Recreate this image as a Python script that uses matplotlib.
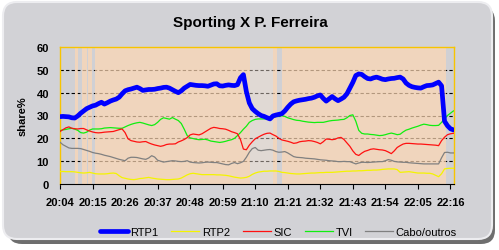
import numpy as np
import matplotlib
matplotlib.use("Agg")
import matplotlib.pyplot as plt
from matplotlib.patches import FancyBboxPatch

plt.rcParams['font.family'] = ['Liberation Sans', 'DejaVu Sans']

## time axis: one point per minute, starting 20:04
minutes = list(range(0, 134))
tick_pos = list(range(0, 133, 11))
tick_labels = ["20:04", "20:15", "20:26", "20:37", "20:48", "20:59", "21:10",
               "21:21", "21:32", "21:43", "21:54", "22:05", "22:16"]

rtp1 = [29.5, 29.6, 29.5, 29.4, 29.0, 28.9, 29.8, 31.0, 32.0, 33.0,
        33.6, 34.2, 34.5, 35.2, 35.8, 35.0, 35.6, 36.3, 36.8, 37.2,
        38.0, 39.5, 40.8, 41.3, 41.6, 42.0, 42.4, 41.8, 41.0, 41.2,
        41.4, 41.4, 41.5, 41.8, 42.0, 42.3, 42.4, 42.0, 41.3, 40.6,
        40.0, 40.8, 42.0, 42.8, 43.6, 43.4, 43.2, 43.1, 43.1, 43.0,
        42.8, 43.3, 43.8, 43.9, 43.0, 42.9, 43.2, 43.4, 43.2, 43.1,
        43.5, 46.5, 47.9, 40.5, 35.5, 33.0, 31.8, 30.8, 30.0, 29.6,
        29.0, 28.5, 29.8, 30.2, 30.5, 30.8, 32.0, 33.6, 35.0, 36.0,
        36.4, 36.7, 36.9, 37.1, 37.4, 37.6, 38.0, 38.6, 39.0, 37.5,
        36.3, 37.3, 38.3, 37.3, 36.5, 37.2, 38.0, 39.5, 42.0, 44.5,
        47.5, 48.2, 48.0, 47.0, 46.2, 46.0, 46.5, 46.8, 46.4, 45.9,
        45.7, 46.0, 46.2, 46.3, 46.6, 46.8, 46.0, 44.2, 43.2, 42.6,
        42.3, 42.1, 42.0, 42.6, 43.1, 43.2, 43.4, 44.0, 44.6, 43.0,
        27.5, 25.5, 24.2, 23.7]

rtp2 = [5.4, 5.5, 5.4, 5.4, 5.4, 5.3, 5.1, 4.9, 4.8, 4.9,
        5.1, 4.8, 4.5, 4.4, 4.4, 4.4, 4.5, 4.7, 4.8, 4.6,
        3.6, 2.8, 2.5, 2.2, 2.0, 1.9, 2.1, 2.4, 2.5, 2.7,
        2.9, 2.6, 2.4, 2.2, 2.1, 2.0, 1.9, 1.9, 2.0, 2.1,
        2.2, 2.6, 3.3, 4.0, 4.5, 4.7, 4.5, 4.3, 4.1, 4.1,
        4.1, 4.1, 4.1, 4.0, 4.0, 3.9, 3.8, 3.6, 3.3, 3.0,
        2.8, 2.6, 2.7, 2.9, 3.4, 4.2, 4.8, 5.2, 5.4, 5.6,
        5.6, 5.7, 5.7, 5.7, 5.5, 5.1, 5.0, 4.8, 4.6, 4.5,
        4.4, 4.4, 4.5, 4.6, 4.7, 4.8, 4.8, 4.9, 5.0, 5.0,
        5.1, 5.1, 5.1, 5.2, 5.3, 5.4, 5.5, 5.6, 5.6, 5.7,
        5.7, 5.8, 5.8, 5.9, 6.0, 6.0, 6.1, 6.1, 6.2, 6.4,
        6.5, 6.6, 6.6, 6.6, 6.3, 5.1, 5.2, 5.3, 5.4, 5.2,
        5.0, 4.8, 4.8, 4.8, 4.7, 4.7, 4.4, 3.8, 3.2, 4.5,
        6.6, 6.8, 6.9, 6.9]

sic = [23.0, 23.8, 24.6, 25.0, 24.4, 24.2, 24.1, 24.3, 24.3, 23.7,
       23.2, 22.8, 22.5, 22.4, 22.5, 22.7, 22.8, 22.9, 23.0, 23.4,
       23.8, 24.1, 22.5, 19.8, 19.0, 18.7, 18.4, 18.3, 18.5, 18.6,
       18.0, 17.5, 17.1, 16.8, 16.5, 16.8, 17.3, 17.5, 17.5, 17.6,
       18.4, 18.9, 19.5, 20.3, 21.5, 21.9, 21.7, 21.5, 22.0, 22.8,
       23.6, 24.4, 24.8, 24.6, 24.3, 24.2, 24.0, 23.5, 22.9, 22.5,
       22.0, 19.5, 15.3, 15.0, 17.0, 18.5, 19.8, 20.5, 21.2, 21.8,
       22.2, 22.3, 21.6, 21.0, 20.0, 19.3, 19.0, 18.7, 18.3, 17.8,
       18.0, 18.5, 18.7, 18.8, 19.0, 18.9, 18.6, 18.2, 17.6, 18.5,
       19.7, 19.6, 19.4, 19.6, 20.2, 20.4, 19.5, 18.0, 16.5, 14.5,
       13.0, 12.5, 13.5, 14.3, 14.7, 15.2, 15.4, 15.2, 15.0, 14.9,
       14.6, 14.0, 13.3, 14.5, 16.0, 16.8, 17.5, 17.8, 17.8, 17.7,
       17.6, 17.5, 17.5, 17.4, 17.3, 17.2, 17.1, 17.0, 16.8, 19.0,
       20.5, 21.6, 22.0, 22.2]

tvi = [23.4, 23.7, 23.9, 24.2, 24.4, 24.0, 23.5, 22.5, 22.3, 22.7,
       23.6, 24.1, 24.1, 24.1, 24.2, 24.5, 24.6, 24.7, 24.6, 24.5,
       24.4, 24.4, 25.0, 25.6, 26.1, 26.5, 26.8, 27.0, 26.7, 26.3,
       25.9, 25.6, 26.0, 27.0, 28.3, 29.0, 28.7, 28.4, 29.1, 28.4,
       27.8, 26.5, 24.0, 21.2, 20.2, 19.9, 19.6, 19.4, 19.5, 19.6,
       19.3, 18.8, 18.6, 18.4, 18.2, 18.4, 18.7, 19.1, 19.4, 20.0,
       21.2, 22.5, 24.0, 25.3, 27.0, 27.8, 28.3, 28.5, 28.5, 28.5,
       28.6, 28.8, 29.2, 29.5, 29.7, 29.9, 29.6, 29.0, 28.6, 28.2,
       27.9, 27.8, 27.5, 27.3, 27.1, 27.0, 26.9, 27.0, 27.0, 27.0,
       27.3, 27.6, 27.8, 27.9, 28.0, 28.2, 28.3, 29.0, 30.0, 30.3,
       27.5, 23.5, 22.2, 21.9, 21.9, 21.7, 21.6, 21.4, 21.2, 21.3,
       21.6, 22.0, 22.3, 22.0, 21.6, 21.8, 22.8, 23.6, 24.0, 24.5,
       24.9, 25.3, 25.8, 26.2, 26.0, 25.7, 25.6, 25.6, 25.7, 27.0,
       28.6, 30.0, 31.0, 32.0]

cabo = [18.3, 17.2, 16.5, 15.8, 15.6, 15.6, 15.6, 15.5, 15.1, 14.7,
        14.3, 13.8, 13.5, 13.3, 13.0, 12.6, 12.3, 12.0, 11.6, 11.2,
        10.8, 10.5, 10.2, 11.3, 11.7, 11.7, 11.6, 11.3, 11.0, 10.8,
        11.4, 12.4, 11.8, 10.4, 10.0, 9.6, 9.8, 10.0, 10.2, 10.1,
        9.9, 9.8, 9.9, 10.2, 9.6, 9.4, 9.3, 9.2, 9.3, 9.5,
        9.6, 9.5, 9.4, 9.4, 9.1, 8.8, 8.5, 8.4, 9.0, 9.4,
        8.9, 9.3, 9.9, 11.7, 13.9, 15.5, 16.0, 14.8, 14.6, 14.8,
        15.0, 15.1, 14.8, 14.2, 13.9, 14.0, 14.2, 13.6, 12.8, 12.0,
        11.7, 11.6, 11.5, 11.3, 11.2, 11.1, 11.0, 10.8, 10.6, 10.5,
        10.4, 10.2, 10.1, 10.0, 9.8, 9.8, 9.9, 9.8, 9.8, 9.3,
        8.8, 9.2, 9.5, 9.5, 9.4, 9.5, 9.6, 9.7, 9.8, 9.8,
        10.2, 10.7, 10.4, 9.9, 9.7, 9.6, 9.5, 9.5, 9.3, 9.2,
        9.1, 9.0, 8.9, 8.8, 8.8, 8.8, 8.8, 8.8, 8.8, 11.5,
        13.8, 13.9, 13.6, 13.6]

## figure with rounded grey card + shadow
fig = plt.figure(figsize=(4.99, 2.51), dpi=100, facecolor='white')
bg = fig.add_axes([0, 0, 1, 1])
bg.set_xlim(0, 499)
bg.set_ylim(251, 0)
bg.axis('off')
bg.add_patch(FancyBboxPatch((8, 8), 487, 237, boxstyle="round,pad=0,rounding_size=14",
                            fc='#6e6e6e', ec='none'))
bg.add_patch(FancyBboxPatch((3, 3), 489, 237, boxstyle="round,pad=0,rounding_size=14",
                            fc='#d2d2d6', ec='#ededf0', lw=1.5))

bg.text(250, 23, "Sporting X P. Ferreira", ha='center', va='center',
        fontsize=11, fontweight='bold', color='black')

ax = fig.add_axes([60/499, (251-185)/251, 394/499, 137/251])
ax.set_facecolor('#d0d0d4')

## peach picture bands in the plot background
peach_bands = [(5, 6.2), (7.3, 9.0), (9.6, 10.8), (11.8, 64.2), (72, 73.5), (75, 130.5)]
for a, b in peach_bands:
    ax.axvspan(a, b, color='#ffd8b4', alpha=0.7, lw=0, zorder=1)
# faint light wash where the logo shows through
ax.axvspan(64.2, 72, color='#f4e4d6', alpha=0.45, lw=0, zorder=1)

for v in [10, 20, 30, 40, 50]:
    ax.axhline(v, color='black', lw=0.8, ls=(0, (3, 2)), zorder=0.5)

l_cabo, = ax.plot(minutes, cabo, color='#808080', lw=0.9, zorder=3)
l_tvi, = ax.plot(minutes, tvi, color='#10ee10', lw=0.9, zorder=3)
l_sic, = ax.plot(minutes, sic, color='#ff1010', lw=0.9, zorder=3)
l_rtp2, = ax.plot(minutes, rtp2, color='#f4f400', lw=0.9, zorder=3)
l_rtp1, = ax.plot(minutes, rtp1, color='#0000ff', lw=3.4, zorder=4, solid_capstyle='round')

ax.set_xlim(0, 133.2)
ax.set_ylim(0, 60)
ax.set_xticks(tick_pos)
ax.set_xticklabels(tick_labels, fontsize=8, fontweight='bold')
ax.set_yticks(range(0, 61, 10))
ax.set_yticklabels([str(v) for v in range(0, 61, 10)], fontsize=8, fontweight='bold')
ax.tick_params(axis='x', length=3.5, width=0.8, pad=6, color='black')
ax.tick_params(axis='y', length=0, pad=8)
for s in ['left', 'top', 'right']:
    ax.spines[s].set_color('#f7c400')
    ax.spines[s].set_linewidth(1.0)
ax.spines['bottom'].set_color('black')
ax.spines['bottom'].set_linewidth(0.8)
ax.set_ylabel("share%", fontsize=8, fontweight='bold', labelpad=6)

## legend along the bottom
leg = fig.legend([l_rtp1, l_rtp2, l_sic, l_tvi, l_cabo],
                 ["RTP1", "RTP2", "SIC", "TVI", "Cabo/outros"],
                 loc='center left', bbox_to_anchor=(100/499, 1 - 233/251),
                 ncol=5, frameon=False, fontsize=8, handlelength=2.5,
                 handletextpad=0.25, columnspacing=1.15, borderpad=0, borderaxespad=0)

fig.savefig("out.png", dpi=100, facecolor='white')
